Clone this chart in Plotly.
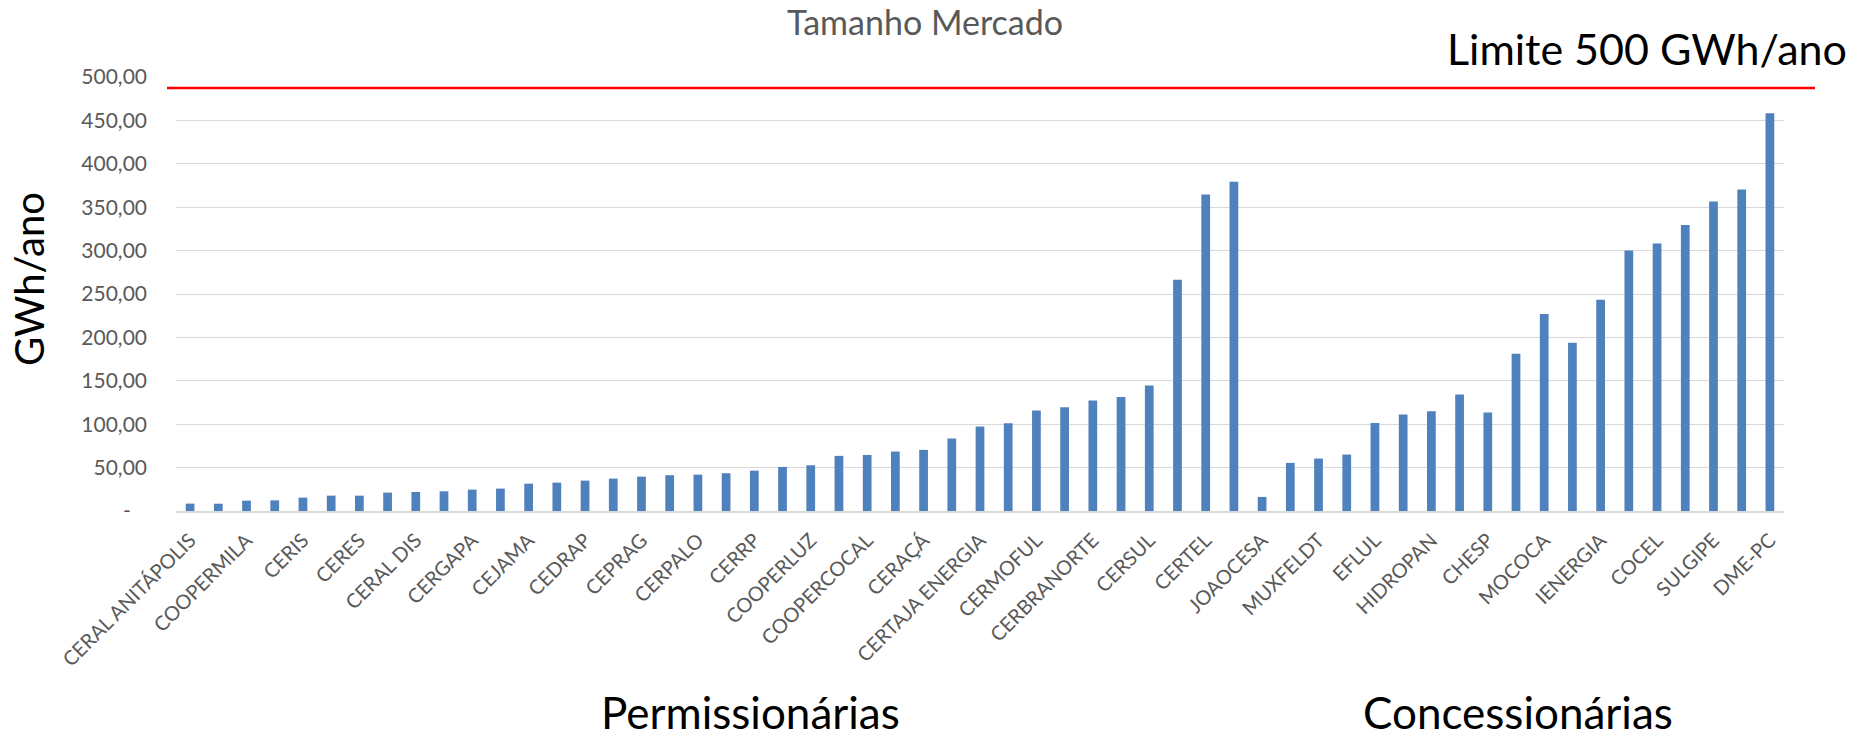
import plotly.graph_objects as go

# ---- data -------------------------------------------------------------
distribuidoras = [
    "CERAL ANITÁPOLIS", "CERMC", "COOPERMILA", "CERIM", "CERIS", "CEREJ",
    "CERES", "CETRIL", "CERAL DIS", "CERCI", "CERGAPA", "CERGRAL", "CEJAMA",
    "CERVAM", "CEDRAP", "COOPERNORTE", "CEPRAG", "COORSEL", "CERPALO",
    "CERPRO", "CERRP", "CERGAL", "COOPERLUZ", "CERILUZ", "COOPERCOCAL",
    "COOPERZEM", "CERAÇÁ", "CRELUZ", "CERTAJA ENERGIA", "CERTHIL",
    "CERMOFUL", "CERMISSÕES", "CERBRANORTE", "COOPERA", "CERSUL", "CRERAL",
    "CERTEL", "COPREL",
    "JOAOCESA", "EFLJC", "MUXFELDT", "ELFSM", "EFLUL", "NOVA PALMA",
    "HIDROPAN", "DEMEI", "CHESP", "FORCEL", "MOCOCA", "CFLO", "IENERGIA",
    "EDEVP", "COCEL", "UHENPAL", "SULGIPE", "ELETROCAR", "DME-PC",
]
mercado_gwh = [
    8.5, 8.4, 11.9, 12.3, 15.4, 17.7, 17.7, 21.2, 21.9, 22.7, 24.6, 25.8,
    31.5, 32.7, 35.0, 37.3, 39.6, 41.2, 41.9, 43.5, 46.5, 50.8, 52.7, 63.5,
    64.6, 68.5, 70.4, 83.5, 97.3, 101.2, 115.8, 119.6, 127.3, 131.2, 144.6,
    266.5, 364.6, 379.2,
    16.2, 55.4, 60.4, 65.0, 101.5, 111.2, 115.0, 134.2, 113.5, 181.2, 226.9,
    193.8, 243.5, 300.0, 308.1, 329.6, 356.5, 370.4, 458.1,
]
rotulos_visiveis = distribuidoras[0::2]
y_ticks = [0, 50, 100, 150, 200, 250, 300, 350, 400, 450, 500]
y_tick_text = ["-\u00a0\u00a0\u00a0", "50,00", "100,00", "150,00", "200,00",
               "250,00", "300,00", "350,00", "400,00", "450,00", "500,00"]
limite_linha = 487.3

# ---- layout geometry (pixels) -----------------------------------------
W, H = 1862, 738
L, R, T, B = 176, 78, 77, 227
PW, PH = W - L - R, H - T - B


def px(xp):
    return (xp - L) / PW


def py(yp):
    return (H - B - yp) / PH


FONT = "Lato, Carlito, 'Open Sans', sans-serif"
GRAY = "#595959"

fig = go.Figure()
fig.add_trace(go.Bar(
    x=distribuidoras, y=mercado_gwh,
    marker=dict(color="#4F81BD", line=dict(width=0)),
    hoverinfo="x+y",
))

fig.add_shape(type="line", xref="paper", yref="y",
              x0=px(167), x1=px(1815), y0=limite_linha, y1=limite_linha,
              line=dict(color="#FF0000", width=2.5))

ann = [
    dict(text="Tamanho Mercado", x=px(924.5), y=py(21.1),
         font=dict(size=34, color=GRAY)),
    dict(text="Limite 500 GWh/ano", x=px(1848), y=py(48.4), xanchor="right",
         font=dict(size=43, color="#000000")),
    dict(text="GWh/ano", x=px(29), y=py(279), textangle=-90,
         font=dict(size=40, color="#000000")),
    dict(text="Permissionárias", x=px(750), y=py(712),
         font=dict(size=44, color="#000000")),
    dict(text="Concessionárias", x=px(1517.5), y=py(712),
         font=dict(size=44, color="#000000")),
]
for a in ann:
    a.setdefault("xanchor", "center")
    a.setdefault("yanchor", "middle")
    fig.add_annotation(xref="paper", yref="paper", showarrow=False,
                       borderpad=0, **a)

fig.update_layout(
    width=W, height=H,
    margin=dict(l=L, r=R, t=T, b=B, autoexpand=False),
    paper_bgcolor="white", plot_bgcolor="white",
    font=dict(family=FONT, color=GRAY),
    bargap=0.69,
    showlegend=False,
)
fig.update_xaxes(
    type="category", range=[-0.5, len(distribuidoras) - 0.5],
    tickmode="array", tickvals=rotulos_visiveis, ticktext=rotulos_visiveis,
    tickangle=-45, tickfont=dict(family=FONT, size=20, color=GRAY),
    showgrid=False, showline=True, linecolor="#D9D9D9", linewidth=1.5,
    ticks="", ticklabelstandoff=8,
)
fig.update_yaxes(
    range=[0, 500], tickmode="array", tickvals=y_ticks, ticktext=y_tick_text,
    tickfont=dict(family=FONT, size=21, color=GRAY),
    showgrid=True, gridcolor="#D9D9D9", gridwidth=1.3,
    zeroline=False, showline=False, ticks="", ticklabelstandoff=28,
)

fig.write_html(
    "out.html",
    config={"displayModeBar": False},
    post_script="document.body.style.margin='0';"
                "document.body.style.overflow='hidden';",
)
